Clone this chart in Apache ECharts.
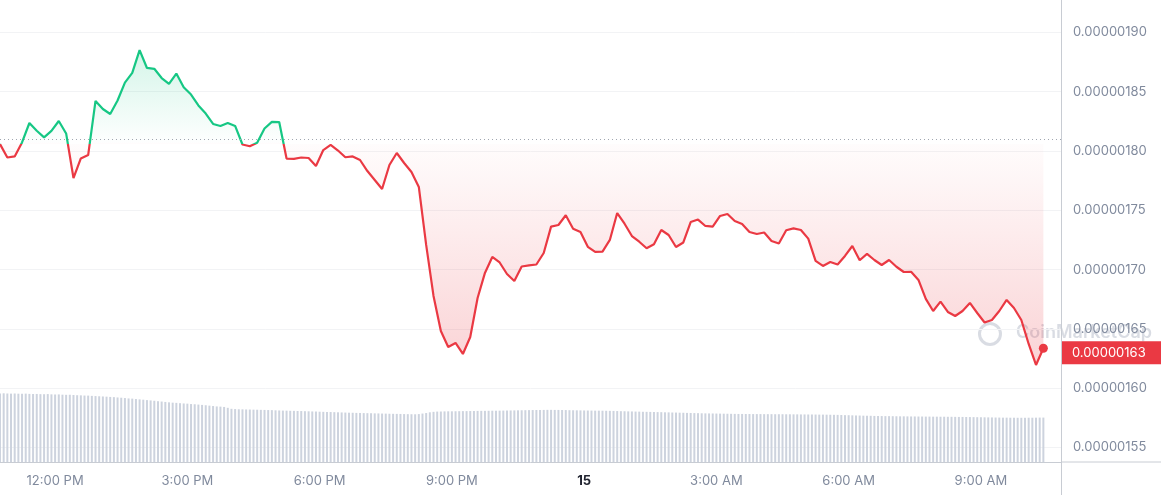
<!DOCTYPE html>
<html>
<head>
<meta charset="utf-8">
<title>Price chart</title>
<script src="https://cdn.jsdelivr.net/npm/echarts@6/dist/echarts.min.js"></script>
<style>
  html, body { margin: 0; padding: 0; background: #fff; }
  #chart { width: 1161px; height: 495px; }
</style>
</head>
<body>
<div id="chart"></div>
<script>
// prices in units of 1e-6, one every 10 minutes from 10:45 AM on the 14th
const prices = [
  1.8058, 1.7945, 1.7954, 1.8072, 1.8236, 1.8171, 1.8115, 1.8169, 1.8253, 1.8148,
  1.7772, 1.7937, 1.7966, 1.8422, 1.8354, 1.8312, 1.8426, 1.8577, 1.8658, 1.8851,
  1.8700, 1.8693, 1.8615, 1.8565, 1.8653, 1.8537, 1.8476, 1.8384, 1.8316, 1.8228,
  1.8211, 1.8236, 1.8211, 1.8055, 1.8040, 1.8069, 1.8190, 1.8246, 1.8244, 1.7936,
  1.7934, 1.7945, 1.7941, 1.7874, 1.8008, 1.8051, 1.8004, 1.7947, 1.7954, 1.7924,
  1.7831, 1.7756, 1.7680, 1.7882, 1.7983, 1.7899, 1.7823, 1.7697, 1.7208, 1.6778,
  1.6483, 1.6348, 1.6382, 1.6289, 1.6432, 1.6761, 1.6972, 1.7107, 1.7060, 1.6963,
  1.6904, 1.7026, 1.7035, 1.7043, 1.7140, 1.7362, 1.7376, 1.7458, 1.7345, 1.7317,
  1.7192, 1.7149, 1.7151, 1.7250, 1.7477, 1.7387, 1.7283, 1.7235, 1.7180, 1.7213,
  1.7334, 1.7292, 1.7191, 1.7229, 1.7401, 1.7422, 1.7368, 1.7362, 1.7452, 1.7469,
  1.7410, 1.7385, 1.7317, 1.7300, 1.7313, 1.7241, 1.7220, 1.7332, 1.7348, 1.7334,
  1.7261, 1.7073, 1.7031, 1.7064, 1.7043, 1.7115, 1.7199, 1.7079, 1.7132, 1.7081,
  1.7039, 1.7081, 1.7024, 1.6980, 1.6982, 1.6913, 1.6753, 1.6651, 1.6730, 1.6643,
  1.6609, 1.6651, 1.6719, 1.6634, 1.6554, 1.6575, 1.6651, 1.6744, 1.6676, 1.6575,
  1.6373, 1.6196, 1.6337
];

// volume bars, one every 5 minutes, arbitrary units
const volumes = [
  103.9, 104.1, 103.8, 103.6, 103.8, 103.5, 103.4, 103.6, 103.2, 103.0, 103.1, 102.8,
  102.7, 102.9, 102.5, 102.3, 102.4, 102.0, 101.8, 101.9, 101.5, 101.2, 101.0, 100.7,
  100.6, 100.2, 99.9, 99.6, 99.3, 99.0, 98.6, 98.3, 97.8, 97.4, 96.9, 96.3,
  96.0, 95.4, 94.9, 94.4, 93.8, 93.3, 92.8, 92.1, 91.6, 91.0, 90.4, 89.9,
  89.6, 89.1, 88.7, 88.4, 87.8, 87.5, 87.0, 86.5, 86.0, 85.4, 84.8, 84.2,
  83.9, 83.4, 82.1, 80.6, 80.2, 79.9, 79.8, 79.6, 79.5, 79.3, 79.2, 79.0,
  78.9, 78.7, 78.6, 78.3, 78.1, 77.9, 77.8, 77.6, 77.5, 77.3, 77.2, 77.0,
  76.8, 76.6, 76.5, 76.2, 76.0, 75.8, 75.7, 75.5, 75.3, 75.1, 74.9, 74.7,
  74.6, 74.4, 74.3, 74.1, 74.0, 73.9, 73.7, 73.6, 73.4, 73.3, 73.1, 73.0,
  72.9, 72.8, 72.6, 72.5, 72.4, 72.3, 72.6, 73.4, 74.2, 75.3, 76.0, 76.4,
  76.5, 76.7, 76.8, 76.8, 76.9, 77.0, 77.1, 77.1, 77.2, 77.3, 77.4, 77.5,
  77.5, 77.6, 77.7, 77.7, 77.8, 77.9, 78.0, 78.1, 78.2, 78.3, 78.4, 78.5,
  78.6, 78.7, 78.8, 78.8, 78.9, 79.0, 79.0, 78.9, 78.9, 78.8, 78.7, 78.5,
  78.4, 78.3, 78.2, 78.1, 78.0, 77.9, 77.8, 77.8, 77.7, 77.6, 77.5, 77.4,
  77.2, 77.0, 76.9, 76.7, 76.6, 76.4, 76.3, 76.1, 76.0, 75.9, 75.8, 75.6,
  75.5, 75.3, 75.2, 75.0, 74.9, 74.7, 74.6, 74.4, 74.3, 74.1, 74.0, 73.8,
  73.7, 73.6, 73.5, 73.4, 73.3, 73.2, 73.1, 73.0, 72.9, 72.8, 72.8, 72.7,
  72.7, 72.6, 72.6, 72.6, 72.5, 72.5, 72.5, 72.4, 72.4, 72.4, 72.3, 72.3,
  72.2, 72.2, 72.1, 72.1, 72.0, 72.0, 71.9, 71.8, 71.8, 71.7, 71.6, 71.5,
  71.4, 71.2, 71.0, 70.9, 70.7, 70.5, 70.4, 70.2, 70.1, 70.0, 69.8, 69.7,
  69.6, 69.5, 69.5, 69.4, 69.3, 69.2, 69.2, 69.1, 69.0, 69.0, 68.9, 68.9,
  68.8, 68.8, 68.7, 68.7, 68.6, 68.6, 68.5, 68.5, 68.4, 68.3, 68.3, 68.2,
  68.1, 68.0, 67.9, 67.8, 67.7, 67.6, 67.5, 67.4, 67.3, 67.2, 67.2, 67.1,
  67.1, 67.0, 67.0, 67.0, 67.1, 67.1, 67.2, 67.3, 67.3
];

const priceTicks = [1.55, 1.60, 1.65, 1.70, 1.75, 1.80, 1.85, 1.90];
const timeTicks = [
  new Date(2024, 2, 14, 12, 0).getTime(),
  new Date(2024, 2, 14, 15, 0).getTime(),
  new Date(2024, 2, 14, 18, 0).getTime(),
  new Date(2024, 2, 14, 21, 0).getTime(),
  new Date(2024, 2, 15, 0, 0).getTime(),
  new Date(2024, 2, 15, 3, 0).getTime(),
  new Date(2024, 2, 15, 6, 0).getTime(),
  new Date(2024, 2, 15, 9, 0).getTime()
];

const startTime = new Date(2024, 2, 14, 10, 45).getTime();
const endTime = new Date(2024, 2, 15, 10, 49).getTime();
const openPrice = prices[0];
const lastPrice = prices[prices.length - 1];

const GREEN = "#16c784";
const RED = "#ea3943";

const priceData = prices.map((v, i) => [startTime + i * 600000, v]);
const volumeData = volumes.map((v, i) => [startTime + i * 300000, v]);
const lastTime = priceData[priceData.length - 1][0];

const fmtPrice = (v) => (v * 1e-6).toFixed(8);
const fmtTime = (t) => {
  const d = new Date(t);
  const h = d.getHours();
  if (h === 0) return "{day|" + d.getDate() + "}";
  const h12 = h % 12 === 0 ? 12 : h % 12;
  return h12 + ":00 " + (h < 12 ? "AM" : "PM");
};

const chart = echarts.init(document.getElementById("chart"), null, { renderer: "canvas" });

const option = {
  animation: false,
  backgroundColor: "#fff",
  textStyle: { fontFamily: "Inter, sans-serif" },
  grid: { left: 0, right: 100, top: 0, bottom: 33 },
  xAxis: {
    // timestamps on a plain value axis so the labels can sit at fixed hours
    type: "value",
    min: startTime,
    max: endTime,
    axisLine: { lineStyle: { color: "#c8ccd3" } },
    axisTick: { show: false, customValues: timeTicks },
    splitLine: { show: false },
    axisLabel: {
      customValues: timeTicks,
      formatter: fmtTime,
      color: "#808a9d",
      fontSize: 13,
      margin: 13,
      rich: {
        day: { fontWeight: "bold", color: "#222531", fontSize: 13 }
      }
    }
  },
  yAxis: [
    {
      type: "value",
      position: "right",
      min: 1.5378,
      max: 1.9273,
      axisLine: { show: true, lineStyle: { color: "#c8ccd3" } },
      axisTick: { show: false, customValues: priceTicks },
      splitLine: { show: true, lineStyle: { color: "#f2f3f5" } },
      axisLabel: {
        customValues: priceTicks,
        formatter: fmtPrice,
        color: "#808a9d",
        fontSize: 13,
        margin: 12
      }
    },
    {
      type: "value",
      min: 0,
      max: 700,
      show: false
    }
  ],
  visualMap: {
    show: false,
    type: "piecewise",
    seriesIndex: 1,
    dimension: 1,
    pieces: [
      { gt: openPrice, lte: 10, color: GREEN },
      { gte: 0, lte: openPrice, color: RED }
    ]
  },
  series: [
    {
      name: "Volume",
      type: "bar",
      yAxisIndex: 1,
      data: volumeData,
      barWidth: 2,
      itemStyle: { color: "#cdd3de" },
      silent: true
    },
    {
      name: "Price",
      type: "line",
      data: priceData,
      showSymbol: false,
      clip: false,
      lineStyle: { width: 2.2 },
      areaStyle: {
        origin: openPrice,
        color: {
          type: "linear",
          x: 0, y: 0, x2: 0, y2: 495,
          global: true,
          colorStops: [
            { offset: 0.09, color: "rgba(22,199,132,0.28)" },
            { offset: 0.285, color: "rgba(22,199,132,0.01)" },
            { offset: 0.29, color: "rgba(234,57,67,0.02)" },
            { offset: 0.72, color: "rgba(234,57,67,0.30)" }
          ]
        }
      },
      markLine: {
        silent: true,
        symbol: "none",
        data: [
          {
            yAxis: openPrice,
            lineStyle: { color: "#a0a6b0", type: [1, 3], width: 1 },
            label: { show: false }
          },
          {
            yAxis: lastPrice,
            lineStyle: { color: "rgba(0,0,0,0)", width: 1, type: "solid" },
            label: {
              show: true,
              position: "end",
              distance: 1,
              formatter: (p) => fmtPrice(p.value),
              color: "#fff",
              backgroundColor: RED,
              fontSize: 13,
              padding: [5, 16, 5, 10]
            }
          }
        ]
      },
      markPoint: {
        silent: true,
        symbol: "circle",
        symbolSize: 9,
        itemStyle: { color: RED },
        label: { show: false },
        data: [{ coord: [lastTime, lastPrice] }]
      }
    }
  ],
  graphic: [
    {
      type: "line",
      shape: { x1: 1061, y1: 462, x2: 1161, y2: 462 },
      style: { stroke: "#c8ccd3", lineWidth: 1 },
      silent: true
    },
    {
      type: "line",
      shape: { x1: 1061.5, y1: 462, x2: 1061.5, y2: 495 },
      style: { stroke: "#c8ccd3", lineWidth: 1 },
      silent: true
    },
    {
      type: "group",
      left: 977,
      top: 321,
      silent: true,
      z: -1,
      children: [
        {
          type: "circle",
          shape: { cx: 12, cy: 12, r: 10.5 },
          style: { fill: "none", stroke: "rgba(170,178,192,0.45)", lineWidth: 3 }
        },
        {
          type: "text",
          left: 38,
          top: 2,
          style: {
            text: "CoinMarketCap",
            fontSize: 18,
            fontWeight: 600,
            fontFamily: "Inter, sans-serif",
            fill: "rgba(170,178,192,0.45)"
          }
        }
      ]
    }
  ]
};

chart.setOption(option);
window.addEventListener("resize", () => chart.resize());
</script>
</body>
</html>
